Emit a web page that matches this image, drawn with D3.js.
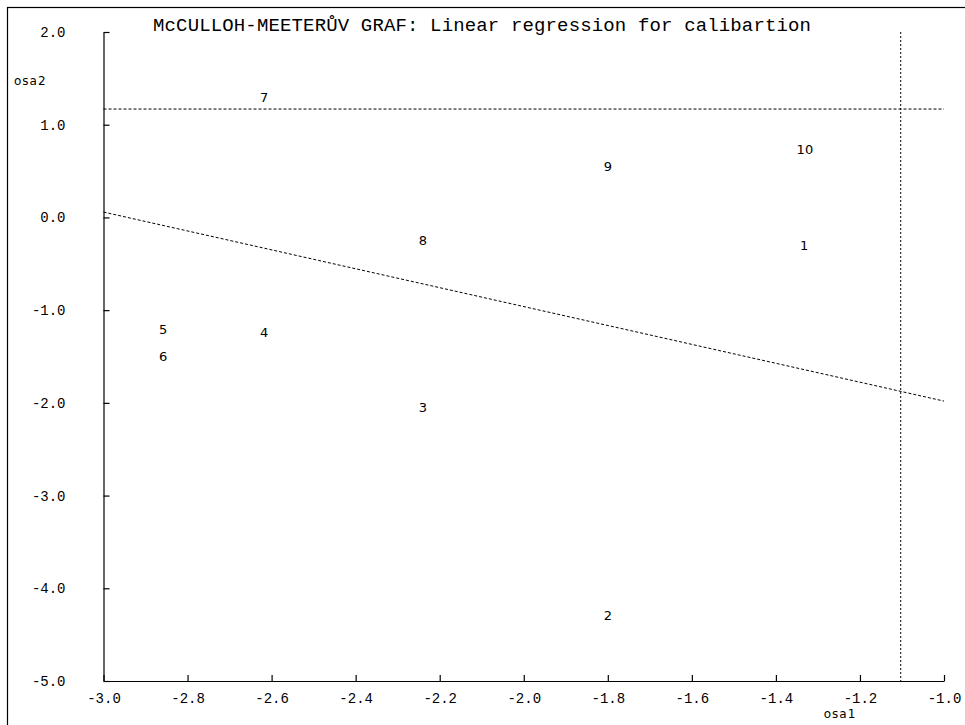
<!DOCTYPE html>
<html lang="cs">
<head>
<meta charset="utf-8" />
<style>
    body { margin: 0; background: #fff; }
    .axis path, .axis line { stroke: #000; stroke-width: 1.2; }
    .axis text { font: 14px "Liberation Mono", monospace; fill: #000; }
</style>
</head>
<body>
<script src="https://cdn.jsdelivr.net/npm/d3@7"></script>
<script>
// cisla bodu a jejich souradnice
var labels = ["1", "2", "3", "4", "5", "6", "7", "8", "9", "10"];
var osa1 = [-1.333, -1.80, -2.24, -2.618, -2.858, -2.858, -2.618, -2.24, -1.80, -1.331];
var osa2 = [-0.298, -4.289, -2.045, -1.236, -1.204, -1.495, 1.299, -0.244, 0.554, 0.738];

// regresni primka (koncove body) a pomocne cary
var regX = [-3.0, -1.0];
var regY = [0.058, -1.981];
var hLevel = 1.169;
var vLevel = -1.103;

var xTicks = [-3.0, -2.8, -2.6, -2.4, -2.2, -2.0, -1.8, -1.6, -1.4, -1.2, -1.0];
var yTicks = [2.0, 1.0, 0.0, -1.0, -2.0, -3.0, -4.0, -5.0];

var width = 965, height = 725;

var x = d3.scaleLinear().domain([-3, -1]).range([103.5, 944]);
var y = d3.scaleLinear().domain([-5, 2]).range([681, 32]);

var svg = d3.select("body").append("svg")
    .attr("width", width)
    .attr("height", height);

// ramecek
svg.append("rect")
    .attr("x", 7.5).attr("y", 7.5)
    .attr("width", 1200).attr("height", 1200)
    .attr("fill", "none").attr("stroke", "#000").attr("stroke-width", 1.2);

svg.append("text")
    .attr("x", 153).attr("y", 31)
    .attr("textLength", 658).attr("lengthAdjust", "spacing")
    .style("font", "19px 'Liberation Mono', monospace")
    .text("McCULLOH-MEETERŮV GRAF: Linear regression for calibartion");

var fmt = function (d) { return d.toFixed(1); };

svg.append("g")
    .attr("class", "axis")
    .attr("transform", "translate(0," + y(-5) + ")")
    .call(d3.axisBottom(x).tickValues(xTicks).tickFormat(fmt)
        .tickSizeInner(-6).tickSizeOuter(0).tickPadding(12));

svg.append("g")
    .attr("class", "axis")
    .attr("transform", "translate(" + x(-3) + ",0)")
    .call(d3.axisLeft(y).tickValues(yTicks).tickFormat(fmt)
        .tickSizeInner(-6).tickSizeOuter(0).tickPadding(38));

svg.append("text")
    .attr("x", 14).attr("y", 85)
    .attr("letter-spacing", 1)
    .style("font", "12px 'DejaVu Sans', sans-serif")
    .text("osa2");

svg.append("text")
    .attr("x", 840).attr("y", 718)
    .attr("text-anchor", "middle")
    .attr("letter-spacing", 1)
    .style("font", "12px 'DejaVu Sans', sans-serif")
    .text("osa1");

// vodorovna a svisla teckovana cara
svg.append("line")
    .attr("x1", x(-3)).attr("x2", x(-1))
    .attr("y1", y(hLevel)).attr("y2", y(hLevel))
    .attr("stroke", "#000").attr("stroke-dasharray", "3,2");

svg.append("line")
    .attr("x1", x(vLevel)).attr("x2", x(vLevel))
    .attr("y1", y(2)).attr("y2", y(-5))
    .attr("stroke", "#000").attr("stroke-dasharray", "2,2");

svg.append("line")
    .attr("x1", x(regX[0])).attr("y1", y(regY[0]))
    .attr("x2", x(regX[1])).attr("y2", y(regY[1]))
    .attr("stroke", "#000").attr("stroke-dasharray", "3,2");

svg.append("g").selectAll("text")
    .data(labels)
    .enter().append("text")
    .attr("x", function (d, i) { return x(osa1[i]); })
    .attr("y", function (d, i) { return y(osa2[i]); })
    .attr("text-anchor", "middle")
    .attr("dy", "0.36em")
    .style("font", "13px 'DejaVu Sans', sans-serif")
    .text(function (d) { return d; });
</script>
</body>
</html>
